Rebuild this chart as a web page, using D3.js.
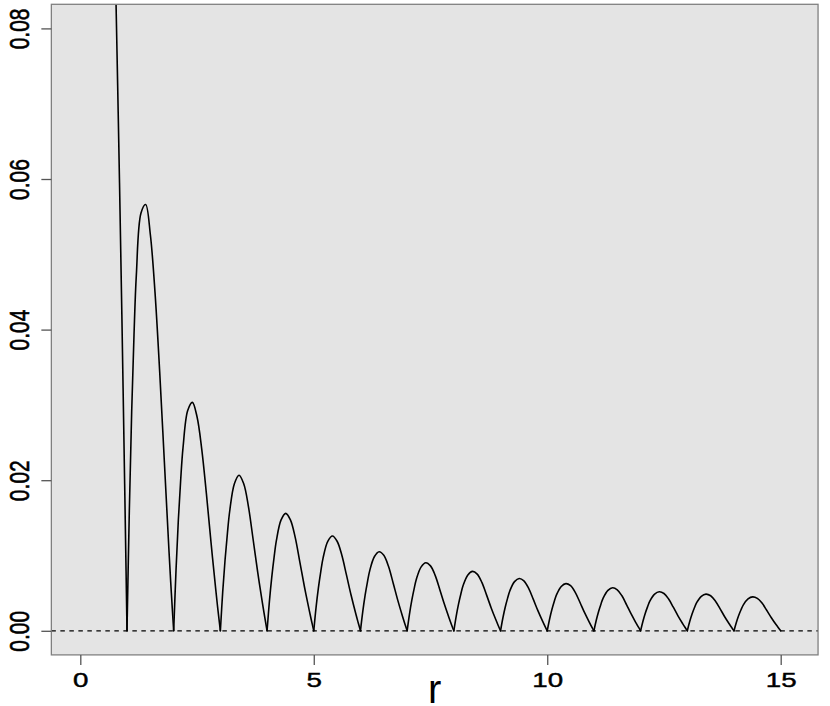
<!DOCTYPE html>
<html>
<head>
<meta charset="utf-8">
<script src="https://cdnjs.cloudflare.com/ajax/libs/d3/7.8.5/d3.min.js"></script>
<style>
	body { margin: 0; background: #fff; }
	svg { display: block; }
	text { font-family: 'Liberation Sans', Arial, sans-serif; fill: #000; }
</style>
</head>
<body>
<div id="chart"></div>
<script>
// tick labels
var tickX = [ 0, 5, 10, 15 ];
var tickY = [ 0, 0.02, 0.04, 0.06, 0.08 ];

// tail of the first (tall) lobe
var mainR = [ 0.7, 0.76, 0.8, 0.84, 0.89, 0.95, 0.98, 1.0 ];
var mainV = [ 0.105, 0.085, 0.0725, 0.0595, 0.042, 0.0195, 0.008, 0 ];

// each later lobe runs from lobeStart[i] to lobeStart[i] + 1, sampled at tGrid
var lobeStart = [ 1, 2, 3, 4, 5, 6, 7, 8, 9, 10, 11, 12, 13, 14 ];
var tGrid = [ 0, 0.05, 0.1, 0.15, 0.2, 0.3, 0.4, 0.5, 0.6, 0.7, 0.8, 0.9, 0.95, 1 ];
var lobeValues = [
	[ 0, 0.01593, 0.02902, 0.03926, 0.04723, 0.05548, 0.05662, 0.05263, 0.04495, 0.03442, 0.02248, 0.01053, 0.00501, 0 ],
	[ 0, 0.00806, 0.01474, 0.02006, 0.02432, 0.02924, 0.03034, 0.02842, 0.02417, 0.01824, 0.0117, 0.00553, 0.00264, 0 ],
	[ 0, 0.00517, 0.0094, 0.01291, 0.01591, 0.01952, 0.02066, 0.01952, 0.01653, 0.01219, 0.00775, 0.00372, 0.00182, 0 ],
	[ 0, 0.0039, 0.0071, 0.00975, 0.01201, 0.01474, 0.0156, 0.01474, 0.01248, 0.0092, 0.00585, 0.00281, 0.00137, 0 ],
	[ 0, 0.00315, 0.00572, 0.00786, 0.00969, 0.01189, 0.01258, 0.01189, 0.01006, 0.00742, 0.00472, 0.00226, 0.00111, 0 ],
	[ 0, 0.00257, 0.00473, 0.00651, 0.00803, 0.00987, 0.0105, 0.01003, 0.00856, 0.00635, 0.00404, 0.00194, 0.00095, 0 ],
	[ 0, 0.00221, 0.00406, 0.0056, 0.00691, 0.00849, 0.00903, 0.00862, 0.00736, 0.00546, 0.00348, 0.00167, 0.00081, 0 ],
	[ 0, 0.00193, 0.00355, 0.00489, 0.00604, 0.00742, 0.00789, 0.00753, 0.00643, 0.00477, 0.00304, 0.00146, 0.00071, 0 ],
	[ 0, 0.0017, 0.00313, 0.00431, 0.00532, 0.00653, 0.00695, 0.00664, 0.00566, 0.0042, 0.00268, 0.00129, 0.00063, 0 ],
	[ 0, 0.00154, 0.00282, 0.00389, 0.0048, 0.00589, 0.00627, 0.00599, 0.00511, 0.00379, 0.00241, 0.00116, 0.00056, 0 ],
	[ 0, 0.0014, 0.00257, 0.00354, 0.00437, 0.00537, 0.00571, 0.00545, 0.00465, 0.00345, 0.0022, 0.00106, 0.00051, 0 ],
	[ 0, 0.00127, 0.00233, 0.00321, 0.00396, 0.00487, 0.00518, 0.00495, 0.00422, 0.00313, 0.00199, 0.00096, 0.00047, 0 ],
	[ 0, 0.00119, 0.00219, 0.00302, 0.00373, 0.00458, 0.00487, 0.00465, 0.00397, 0.00295, 0.00187, 0.0009, 0.00044, 0 ],
	[ 0, 0.0011, 0.00203, 0.0028, 0.00345, 0.00424, 0.00451, 0.00431, 0.00368, 0.00273, 0.00174, 0.00083, 0.00041, 0 ]
];

var width = 830;
var height = 706;
var xlim = [ -0.62, 15.8 ];
var ylim = [ -0.0032, 0.0832 ];

var x = d3.scaleLinear().domain([ 0, 15 ]).range([ 80.3, 780.7 ]);
var y = d3.scaleLinear().domain([ 0, 0.08 ]).range([ 630.8, 28.4 ]);

var svg = d3.select('#chart').append('svg').attr('width', width).attr('height', height);

var px0 = x(xlim[0]), px1 = x(xlim[1]);
var py0 = y(ylim[1]), py1 = y(ylim[0]);

// plot background
svg.append('rect')
	.attr('x', px0).attr('y', py0)
	.attr('width', px1 - px0).attr('height', py1 - py0)
	.attr('fill', '#e4e4e4');

svg.append('clipPath').attr('id', 'clip')
	.append('rect')
	.attr('x', px0).attr('y', py0)
	.attr('width', px1 - px0).attr('height', py1 - py0);

var plot = svg.append('g').attr('clip-path', 'url(#clip)');

// zero reference
plot.append('line')
	.attr('x1', px0).attr('x2', px1)
	.attr('y1', y(0)).attr('y2', y(0))
	.attr('stroke', '#000')
	.attr('stroke-width', 1.2)
	.attr('stroke-dasharray', '4.5,4.5');

var line = d3.line()
	.x((d) => x(d.r))
	.y((d) => y(d.v))
	.curve(d3.curveCatmullRom.alpha(0.5));

var segments = [ mainR.map((r, i) => ({ r: r, v: mainV[i] })) ];
lobeStart.forEach((s, i) => {
	segments.push(tGrid.map((t, j) => ({ r: s + t, v: lobeValues[i][j] })));
});

plot.selectAll('path.lobe')
	.data(segments)
	.enter()
	.append('path')
	.attr('class', 'lobe')
	.attr('d', line)
	.attr('fill', 'none')
	.attr('stroke', '#000')
	.attr('stroke-width', 1.6)
	.attr('stroke-linecap', 'round')
	.attr('stroke-linejoin', 'round');

// box
svg.append('rect')
	.attr('x', px0).attr('y', py0)
	.attr('width', px1 - px0).attr('height', py1 - py0)
	.attr('fill', 'none')
	.attr('stroke', '#808080')
	.attr('stroke-width', 1.3);

// x axis
var gx = svg.append('g')
	.attr('transform', `translate(0,${py1})`)
	.call(d3.axisBottom(x).tickValues(tickX).tickSize(10).tickFormat(d3.format('d')));
gx.select('.domain').remove();
gx.selectAll('.tick line').attr('stroke', '#555').attr('stroke-width', 1.3);
gx.selectAll('.tick text')
	.attr('y', 0).attr('dy', null)
	.attr('transform', 'translate(0,32.3) scale(1.32,1)')
	.attr('font-size', 21)
	.attr('font-family', null)
	.attr('stroke', '#000')
	.attr('stroke-width', 0.45);

// y axis
var gy = svg.append('g')
	.attr('transform', `translate(${px0},0)`)
	.call(d3.axisLeft(y).tickValues(tickY).tickSize(10).tickFormat(d3.format('.2f')));
gy.select('.domain').remove();
gy.selectAll('.tick line').attr('stroke', '#555').attr('stroke-width', 1.3);
gy.selectAll('.tick text')
	.attr('x', 0).attr('y', 0).attr('dy', null)
	.attr('text-anchor', 'middle')
	.attr('transform', 'translate(-22.2,0) scale(1.32,1) rotate(-90)')
	.attr('font-size', 21)
	.attr('font-family', null)
	.attr('stroke', '#000')
	.attr('stroke-width', 0.45);

// axis title
svg.append('text')
	.attr('x', (px0 + px1) / 2)
	.attr('y', 703)
	.attr('text-anchor', 'middle')
	.attr('font-size', 40)
	.text('r');
</script>
</body>
</html>
